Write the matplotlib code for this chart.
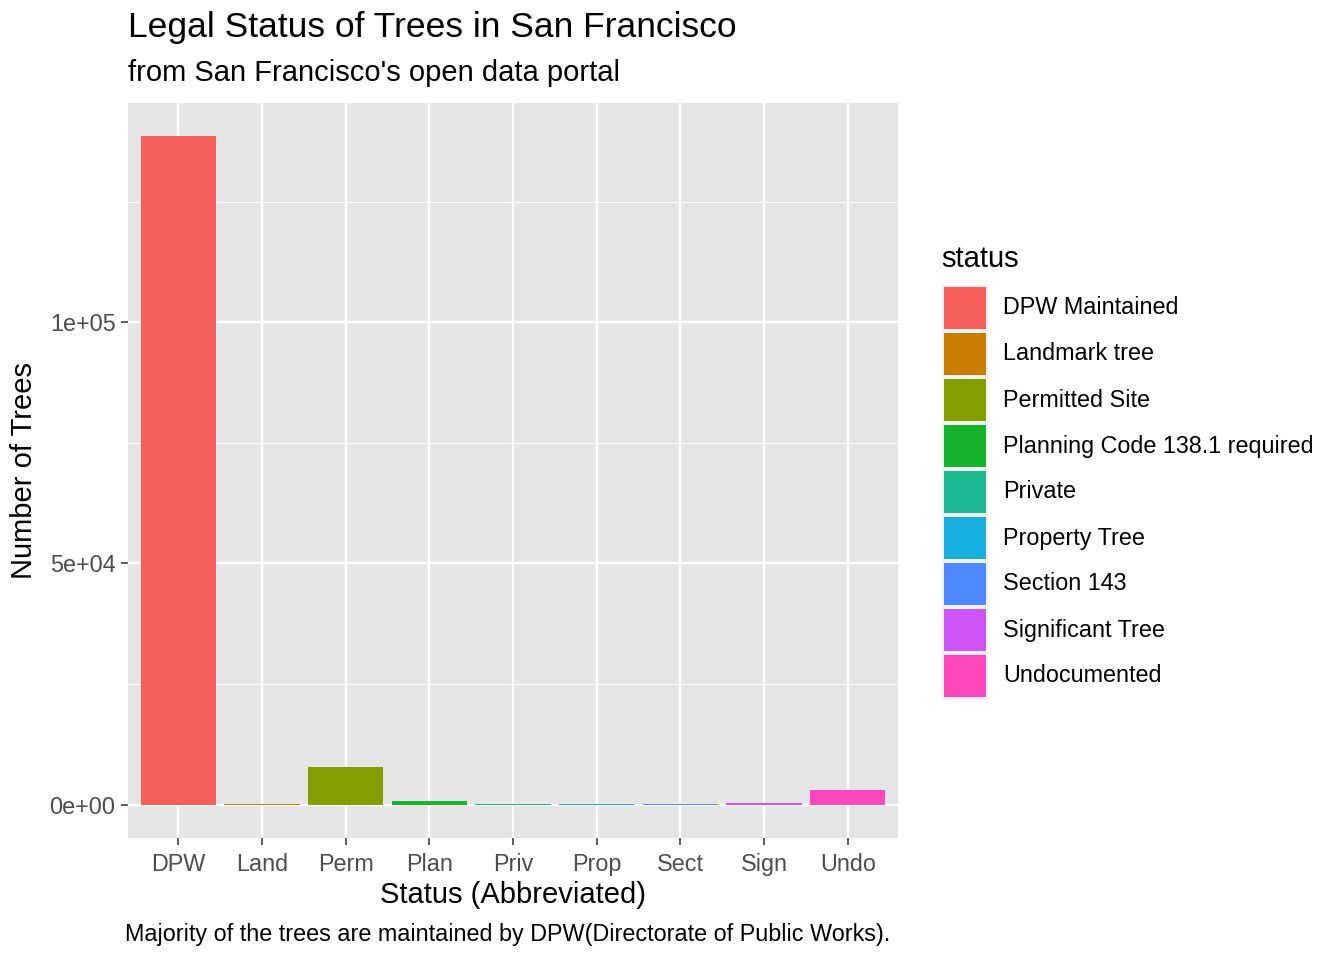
import numpy as np
import matplotlib.pyplot as plt
from matplotlib.patches import Rectangle
from matplotlib.ticker import FixedLocator

plt.rcParams['font.family'] = ['Liberation Sans', 'DejaVu Sans']

# abbreviated status, full status name, tree counts
abbrev = ["DPW", "Land", "Perm", "Plan", "Priv", "Prop", "Sect", "Sign", "Undo"]
status = ["DPW Maintained", "Landmark tree", "Permitted Site",
          "Planning Code 138.1 required", "Private", "Property Tree",
          "Section 143", "Significant Tree", "Undocumented"]
counts = [138500, 20, 7860, 830, 100, 80, 200, 420, 3100]
colors = ["#F5605C", "#C87D00", "#839E00", "#16B42C", "#1AB890",
          "#18AFE0", "#4E89FF", "#CD55F5", "#FE47BA"]

W, H = 1344, 960
fig = plt.figure(figsize=(W/100, H/100), dpi=100)
ax = fig.add_axes([128/W, 1-838/H, 770/W, 735/H])
ax.set_facecolor("#E5E5E5")

x = np.arange(len(abbrev))
ax.bar(x, counts, width=0.9, color=colors, zorder=3)

ax.set_xlim(-0.6, len(abbrev) - 0.4)
ymax = max(counts)
pad = 0.05 * ymax
ax.set_ylim(-pad, ymax + pad)

ax.set_xticks(x)
ax.set_xticklabels(abbrev, fontsize=16.8, color="#4D4D4D")
ax.set_yticks([0, 50000, 100000])
ax.set_yticklabels(["0e+00", "5e+04", "1e+05"], fontsize=16.8, color="#4D4D4D")
ax.yaxis.set_minor_locator(FixedLocator([25000, 75000, 125000]))
ax.tick_params(axis="both", which="major", length=5, color="#333333", width=1.1, pad=4)
ax.tick_params(axis="x", which="major", pad=5.5)
ax.tick_params(axis="y", which="minor", length=0)
ax.grid(True, which="major", color="white", linewidth=1.7, zorder=0)
ax.grid(True, which="minor", axis="y", color="white", linewidth=0.85, zorder=0)
for s in ax.spines.values():
    s.set_visible(False)

ax.set_xlabel("Status (Abbreviated)", fontsize=21, labelpad=4)
ax.set_ylabel("Number of Trees", fontsize=21, labelpad=8)

fig.text(128/W, 1-28/H, "Legal Status of Trees in San Francisco",
         fontsize=25.5, va="center", ha="left")
fig.text(128/W, 1-73/H, "from San Francisco's open data portal",
         fontsize=21, va="center", ha="left")
fig.text(890/W, 1-934/H,
         "Majority of the trees are maintained by DPW(Directorate of Public Works).",
         fontsize=16.8, va="center", ha="right")

# legend drawn by hand in pixel positions
def rect(x0, y0, w, h, color):
    fig.add_artist(Rectangle((x0/W, 1-(y0+h)/H), w/W, h/H, transform=fig.transFigure,
                             facecolor=color, edgecolor="none"))

fig.text(941/W, 1-259/H, "status", fontsize=21, va="center", ha="left")
n = len(status)
rect(941.5, 284.5, 46.5, 46*n + 1.5, "#F2F2F2")
for i, (lab, c) in enumerate(zip(status, colors)):
    top = 287 + 46*i
    rect(943.5, top, 42.5, 42, c)
    fig.text(1003/W, 1-(top+21)/H, lab, fontsize=16.8, va="center", ha="left")

fig.savefig("out.png", dpi=100)
